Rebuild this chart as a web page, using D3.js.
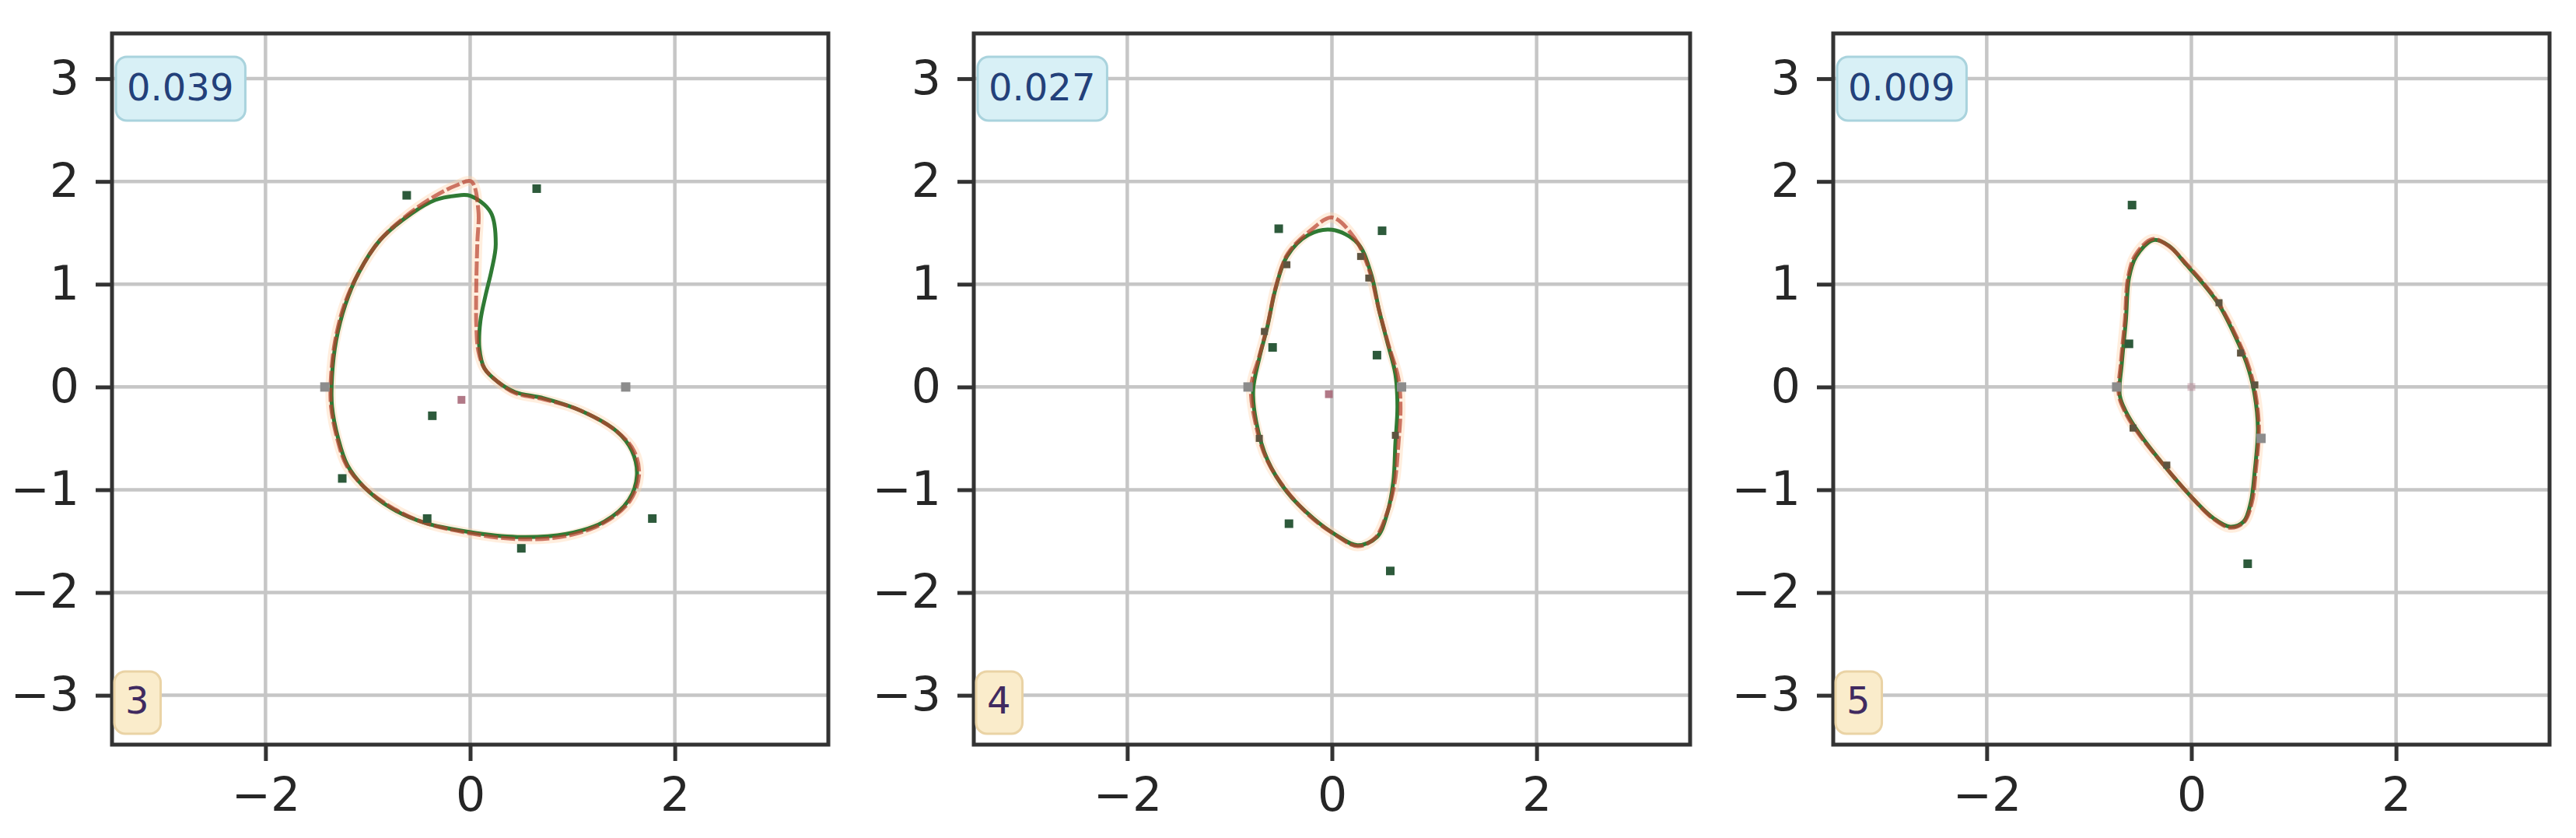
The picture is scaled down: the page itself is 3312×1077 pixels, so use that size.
<!DOCTYPE html>
<html>
<head>
<meta charset="utf-8">
<script src="https://cdn.jsdelivr.net/npm/d3@7"></script>
<style>
body { margin: 0; background: #fff; }
svg { display: block; font-family: "DejaVu Sans", sans-serif; }
</style>
</head>
<body>
<div id="chart"></div>
<script>
// panel labels and scores
var panelIds = ["3", "4", "5"];
var scores = ["0.039", "0.027", "0.009"];
var xTicks = [-2, 0, 2];
var yTicks = [-3, -2, -1, 0, 1, 2, 3];

// fitted curve (green)
var fit3 = [[0,1.86],[0.2,1.7],[0.25,1.39],[0.21,1.14],[0.15,0.89],[0.10,0.64],[0.09,0.38],[0.14,0.18],[0.27,0.05],[0.44,-0.05],[0.72,-0.11],[1.08,-0.23],[1.43,-0.43],[1.58,-0.62],[1.63,-0.86],[1.55,-1.10],[1.31,-1.31],[0.94,-1.43],[0.46,-1.46],[-0.02,-1.41],[-0.45,-1.32],[-0.77,-1.18],[-1.04,-0.97],[-1.20,-0.76],[-1.29,-0.5],[-1.35,-0.19],[-1.35,0.1],[-1.31,0.45],[-1.22,0.80],[-1.09,1.11],[-0.88,1.43],[-0.57,1.69],[-0.34,1.82],[-0.15,1.86]];
var fit4 = [[0,1.53],[0.25,1.40],[0.38,1.11],[0.46,0.75],[0.54,0.44],[0.62,0.125],[0.64,-0.19],[0.62,-0.55],[0.60,-0.92],[0.54,-1.23],[0.44,-1.46],[0.25,-1.54],[0.04,-1.44],[-0.18,-1.28],[-0.44,-1.02],[-0.63,-0.71],[-0.74,-0.34],[-0.77,-0.03],[-0.71,0.28],[-0.63,0.59],[-0.55,0.96],[-0.44,1.27],[-0.23,1.48]];
var fit5 = [[-0.37,1.43],[-0.22,1.375],[-0.05,1.19],[0.11,1.01],[0.27,0.80],[0.43,0.49],[0.54,0.23],[0.61,-0.03],[0.65,-0.40],[0.62,-0.81],[0.58,-1.125],[0.51,-1.31],[0.38,-1.36],[0.22,-1.28],[0,-1.07],[-0.27,-0.76],[-0.51,-0.45],[-0.64,-0.24],[-0.70,-0.08],[-0.68,0.23],[-0.64,0.65],[-0.61,1.06],[-0.54,1.27]];

// target curve (red)
var target3 = [[0.01,2.0],[0.08,1.72],[0.07,1.4],[0.06,1.0],[0.06,0.6],[0.08,0.35],[0.14,0.18],[0.27,0.05],[0.44,-0.06],[0.72,-0.12],[1.08,-0.23],[1.43,-0.43],[1.6,-0.62],[1.65,-0.86],[1.56,-1.11],[1.31,-1.32],[0.94,-1.45],[0.46,-1.48],[-0.02,-1.42],[-0.45,-1.32],[-0.77,-1.17],[-1.04,-0.97],[-1.21,-0.76],[-1.3,-0.5],[-1.36,-0.19],[-1.36,0.1],[-1.32,0.45],[-1.23,0.80],[-1.09,1.11],[-0.88,1.43],[-0.58,1.7],[-0.34,1.86],[-0.14,1.96]];
var target4 = [[0,1.65],[0.22,1.45],[0.36,1.15],[0.46,0.75],[0.55,0.42],[0.65,0.08],[0.67,-0.2],[0.65,-0.55],[0.61,-0.95],[0.53,-1.25],[0.42,-1.47],[0.25,-1.55],[0.02,-1.43],[-0.2,-1.27],[-0.45,-1.0],[-0.64,-0.7],[-0.75,-0.34],[-0.79,0],[-0.71,0.3],[-0.63,0.6],[-0.55,0.97],[-0.43,1.3],[-0.2,1.53]];
var target5 = [[-0.38,1.44],[-0.22,1.37],[-0.05,1.2],[0.11,1.02],[0.27,0.81],[0.44,0.49],[0.55,0.23],[0.62,-0.03],[0.66,-0.40],[0.63,-0.81],[0.59,-1.13],[0.51,-1.32],[0.38,-1.37],[0.21,-1.28],[0,-1.07],[-0.27,-0.76],[-0.52,-0.45],[-0.65,-0.24],[-0.71,-0.07],[-0.69,0.23],[-0.65,0.65],[-0.62,1.06],[-0.55,1.28]];

// control points (green dots)
var ctrl3 = [[-0.62,1.865],[0.65,1.93],[-0.37,-0.28],[-1.25,-0.89],[-0.42,-1.28],[0.50,-1.57],[1.78,-1.28]];
var ctrl4 = [[-0.52,1.54],[0.49,1.52],[-0.58,0.385],[0.44,0.31],[-0.42,-1.33],[0.57,-1.79]];
var ctrl5 = [[-0.58,1.77],[-0.61,0.42],[0.55,-1.72]];

// grey square markers
var ends3 = [[-1.42,0],[1.52,0]];
var ends4 = [[-0.82,0],[0.68,0]];
var ends5 = [[-0.73,0],[0.68,-0.5]];

// small marks along the curve
var marks3 = [];
var marks4 = [[-0.66,0.54],[-0.44,1.19],[0.28,1.27],[0.36,1.06],[0.62,-0.47],[-0.71,-0.5]];
var marks5 = [[0.27,0.82],[0.48,0.33],[0.62,0.02],[-0.24,-0.76],[-0.57,-0.40]];

// centre points
var centres = [[-0.085,-0.125],[-0.03,-0.07],[0,0]];

var fits = [fit3, fit4, fit5];
var targets = [target3, target4, target5];
var ctrls = [ctrl3, ctrl4, ctrl5];
var ends = [ends3, ends4, ends5];
var marks = [marks3, marks4, marks5];

var W = 3312, H = 1077;
var lefts = [144, 1252, 2357];
var pw = 921, top0 = 43, bot0 = 957;

var svg = d3.select("#chart").append("svg")
  .attr("width", W).attr("height", H);
svg.append("rect").attr("width", W).attr("height", H).attr("fill", "#fff");

lefts.forEach(function(L, i) {
  var x = d3.scaleLinear().domain([-3.5, 3.5]).range([L, L + pw]);
  var y = d3.scaleLinear().domain([-3.48, 3.44]).range([bot0, top0]);
  var g = svg.append("g");

  // grid
  g.selectAll(".gx").data(xTicks).enter().append("line")
    .attr("x1", d => x(d)).attr("x2", d => x(d))
    .attr("y1", top0).attr("y2", bot0)
    .attr("stroke", "#c6c6c6").attr("stroke-width", 4.5);
  g.selectAll(".gy").data(yTicks).enter().append("line")
    .attr("x1", L).attr("x2", L + pw)
    .attr("y1", d => y(d)).attr("y2", d => y(d))
    .attr("stroke", "#c6c6c6").attr("stroke-width", 4.5);

  var line = d3.line().x(d => x(d[0])).y(d => y(d[1])).curve(d3.curveCatmullRomClosed.alpha(0.5));

  // halo
  g.append("path").attr("d", line(targets[i]))
    .attr("fill", "none").attr("stroke", "#ffd5ad").attr("stroke-width", 13).attr("opacity", 0.4);
  // fit
  g.append("path").attr("d", line(fits[i]))
    .attr("fill", "none").attr("stroke", "#2f7a34").attr("stroke-width", 5);
  // target
  g.append("path").attr("d", line(targets[i]))
    .attr("fill", "none").attr("stroke", "#b8402e").attr("stroke-width", 5)
    .attr("stroke-dasharray", "18,4").attr("opacity", 0.7);

  g.selectAll(".mk").data(marks[i]).enter().append("rect")
    .attr("x", d => x(d[0]) - 4.5).attr("y", d => y(d[1]) - 4.5)
    .attr("width", 9).attr("height", 9).attr("fill", "#5e5440");

  g.selectAll(".en").data(ends[i]).enter().append("rect")
    .attr("x", d => x(d[0]) - 6).attr("y", d => y(d[1]) - 6)
    .attr("width", 12).attr("height", 12).attr("fill", "#8c8c8c");

  g.selectAll(".ct").data(ctrls[i]).enter().append("rect")
    .attr("x", d => x(d[0]) - 5.5).attr("y", d => y(d[1]) - 5.5)
    .attr("width", 11).attr("height", 11).attr("fill", "#2d5a3b");

  g.append("rect")
    .attr("x", x(centres[i][0]) - 5).attr("y", y(centres[i][1]) - 5)
    .attr("width", 10).attr("height", 10)
    .attr("fill", "#a86a7a").attr("opacity", i == 2 ? 0.35 : 0.9);

  // axes
  var fmt = d3.format("d");
  var ax = g.append("g").attr("transform", "translate(0," + bot0 + ")")
    .call(d3.axisBottom(x).tickValues(xTicks).tickFormat(fmt).tickSize(21).tickPadding(21));
  var ay = g.append("g").attr("transform", "translate(" + L + ",0)")
    .call(d3.axisLeft(y).tickValues(yTicks).tickFormat(fmt).tickSize(21).tickPadding(21));
  [ax, ay].forEach(function(a) {
    a.select(".domain").remove();
    a.selectAll("line").attr("stroke", "#333").attr("stroke-width", 5);
    a.selectAll("text").attr("fill", "#262626")
      .style("font-family", "'DejaVu Sans'").style("font-size", "60px");
  });

  // frame
  g.append("rect").attr("x", L).attr("y", top0).attr("width", pw).attr("height", bot0 - top0)
    .attr("fill", "none").attr("stroke", "#333").attr("stroke-width", 5);

  // score box
  var sb = g.append("rect");
  var st = g.append("text").attr("x", L + 19).attr("y", top0 + 86)
    .attr("fill", "#23407a").style("font-size", "48px").text(scores[i]);
  var sw = st.node().getComputedTextLength();
  sb.attr("x", L + 5).attr("y", top0 + 30).attr("width", sw + 29).attr("height", 82)
    .attr("rx", 14).attr("fill", "#d8f0f6").attr("stroke", "#a9d3dd").attr("stroke-width", 3);

  // panel id box
  var nb = g.append("rect");
  var nt = g.append("text").attr("x", L + 17).attr("y", bot0 - 40)
    .attr("fill", "#402a60").style("font-size", "48px").text(panelIds[i]);
  var nw = nt.node().getComputedTextLength();
  nb.attr("x", L + 3).attr("y", bot0 - 94).attr("width", nw + 29).attr("height", 80)
    .attr("rx", 14).attr("fill", "#faeccb").attr("stroke", "#ead3a5").attr("stroke-width", 3);
});
</script>
</body>
</html>
